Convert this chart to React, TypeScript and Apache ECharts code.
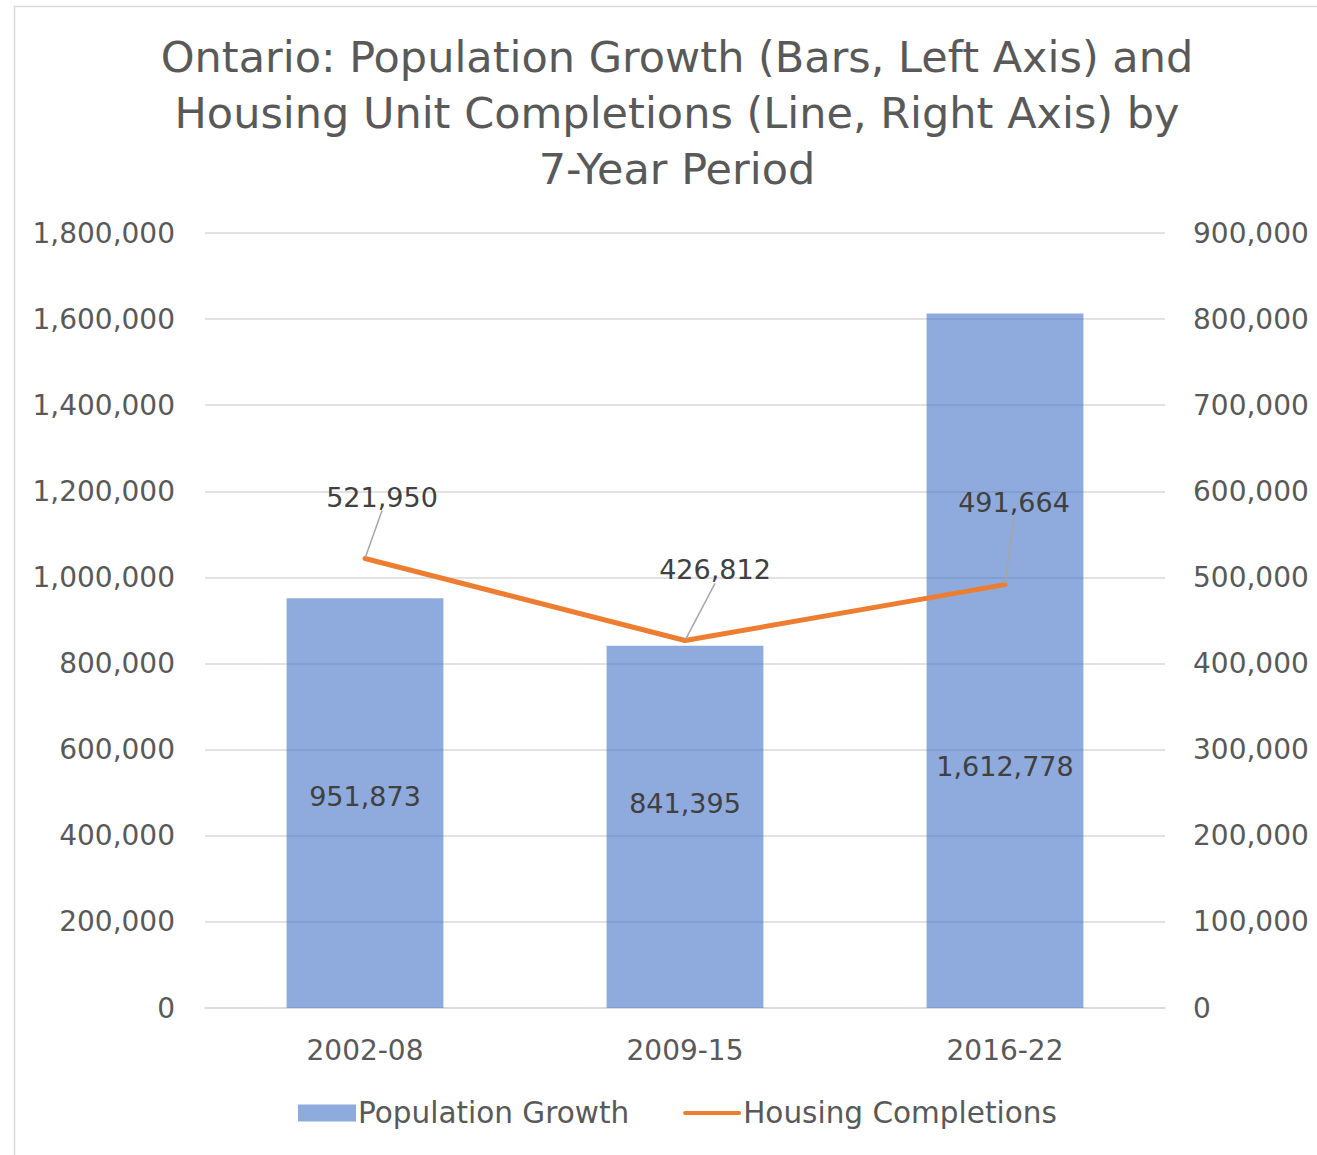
import React, { useEffect, useRef } from "react";
import * as echarts from "echarts";

const categories = ["2002-08", "2009-15", "2016-22"];
const populationGrowth = [951873, 841395, 1612778];
const housingCompletions = [521950, 426812, 491664];
const leftTicks = { min: 0, max: 1800000, interval: 200000 };
const rightTicks = { min: 0, max: 900000, interval: 100000 };
const barLabelShift = [-7, -23, 106];
const lineLabelShift: [number, number][] = [
  [17, -42],
  [30, -51],
  [9, -63],
];

const FONT = "'DejaVu Sans', sans-serif";
const fmt = (v: number) => v.toLocaleString("en-US");

export default function App() {
  const ref = useRef<HTMLDivElement>(null);
  useEffect(() => {
    document.body.style.margin = "0";
    const chart = echarts.init(ref.current!, undefined, { renderer: "svg" });
    chart.setOption({
      animation: false,
      backgroundColor: "#ffffff",
      textStyle: { fontFamily: FONT },
      graphic: [
        {
          type: "rect",
          shape: { x: 14.5, y: 6.5, width: 1320, height: 1160 },
          style: { fill: "none", stroke: "#D9D9D9", lineWidth: 1.5 },
          silent: true,
          z: -1,
        },
      ],
      title: {
        text: "Ontario: Population Growth (Bars, Left Axis) and\nHousing Unit Completions (Line, Right Axis) by\n7-Year Period",
        left: 672,
        top: 24,
        textAlign: "center",
        textStyle: {
          fontFamily: FONT,
          fontSize: 43,
          fontWeight: "normal",
          color: "#595959",
          lineHeight: 56,
        },
      },
      grid: { left: 205, right: 152, top: 233, bottom: 147 },
      legend: {
        bottom: 22,
        left: 293,
        itemWidth: 58,
        itemHeight: 17,
        itemGap: 54,
        textStyle: { fontFamily: FONT, fontSize: 29.5, color: "#595959", padding: [0, 0, 0, -3] },
        data: [
          { name: "Population Growth", icon: "rect" },
          { name: "Housing Completions", icon: "path://M2,0 L58,0 A2,2 0 0 1 58,4 L2,4 A2,2 0 0 1 2,0 Z" },
        ],
      },
      xAxis: {
        type: "category",
        data: categories,
        axisLine: { show: true, lineStyle: { color: "#D9D9D9", width: 1.5 } },
        axisTick: { show: false },
        axisLabel: { fontFamily: FONT, fontSize: 28, color: "#595959", margin: 28 },
      },
      yAxis: [
        {
          type: "value",
          ...leftTicks,
          axisLine: { show: false },
          axisTick: { show: false },
          splitLine: { lineStyle: { color: "#D9D9D9", width: 1.5 } },
          axisLabel: { fontFamily: FONT, fontSize: 28, color: "#595959", margin: 30, formatter: fmt },
        },
        {
          type: "value",
          position: "right",
          ...rightTicks,
          axisLine: { show: false },
          axisTick: { show: false },
          splitLine: { show: false },
          axisLabel: { fontFamily: FONT, fontSize: 28, color: "#595959", margin: 28, formatter: fmt },
        },
      ],
      series: [
        {
          name: "Population Growth",
          type: "bar",
          yAxisIndex: 0,
          barWidth: "49%",
          itemStyle: { color: "rgba(68,114,196,0.6)" },
          data: populationGrowth.map((v, i) => ({
            value: v,
            label: { offset: [0, barLabelShift[i]] },
          })),
          label: {
            show: true,
            position: "inside",
            fontFamily: FONT,
            fontSize: 27,
            color: "#404040",
            formatter: (p: any) => fmt(p.value),
          },
          z: 1,
        },
        {
          name: "Housing Completions",
          type: "line",
          yAxisIndex: 1,
          data: housingCompletions,
          symbol: "circle",
          symbolSize: 2,
          itemStyle: { color: "#ED7D31" },
          lineStyle: { color: "#ED7D31", width: 5, cap: "round" },
          label: {
            show: true,
            position: "top",
            fontFamily: FONT,
            fontSize: 27,
            color: "#404040",
            formatter: (p: any) => fmt(p.value),
          },
          labelLine: { show: true, lineStyle: { color: "#A6A6A6", width: 1.5 } },
          labelLayout: (p: any) => ({
            dx: lineLabelShift[p.dataIndex][0],
            dy: lineLabelShift[p.dataIndex][1],
          }),
          z: 3,
        },
      ],
    });
    return () => chart.dispose();
  }, []);
  return <div ref={ref} style={{ width: 1317, height: 1155 }} />;
}
